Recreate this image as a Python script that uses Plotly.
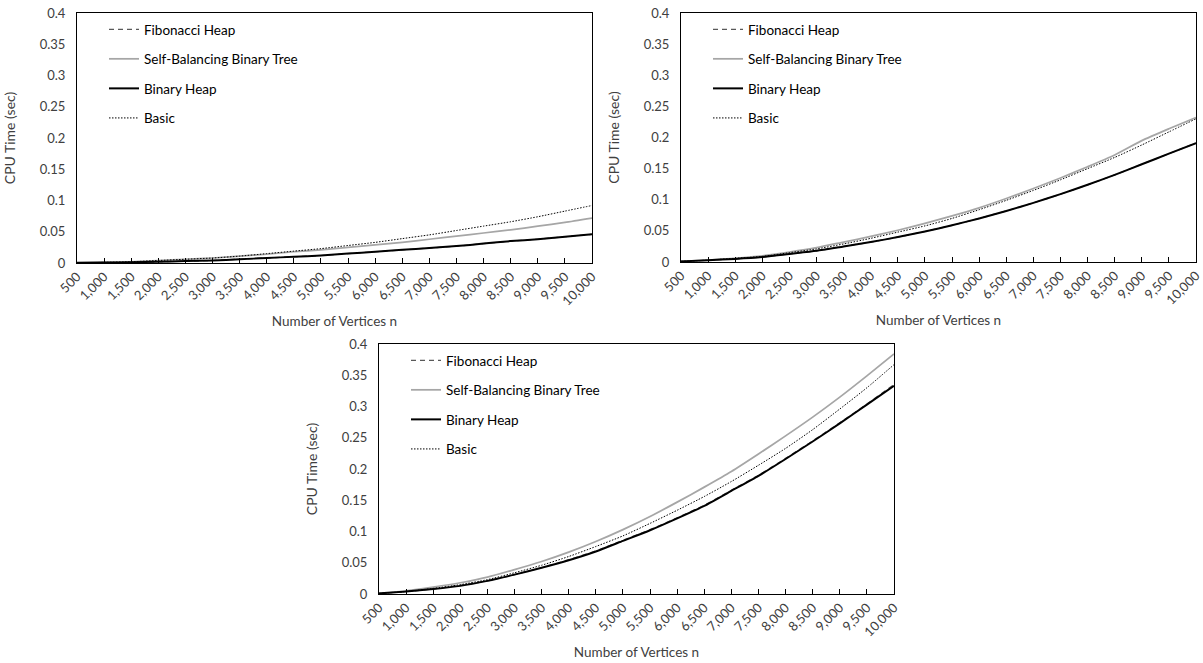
import plotly.graph_objects as go

W, H = 1203, 663

n_vertices = [500, 1000, 1500, 2000, 2500, 3000, 3500, 4000, 4500, 5000,
              5500, 6000, 6500, 7000, 7500, 8000, 8500, 9000, 9500, 10000]

series_names = ["Fibonacci Heap", "Self-Balancing Binary Tree", "Binary Heap", "Basic"]

# Chart 1 (top-left)
c1_fib = [0.0002, 0.0006, 0.0012, 0.002, 0.003, 0.004, 0.006, 0.008, 0.010, 0.012,
          0.015, 0.018, 0.021, 0.024, 0.027, 0.031, 0.035, 0.038, 0.042, 0.046]
c1_sbbt = [0.0003, 0.001, 0.002, 0.004, 0.006, 0.008, 0.011, 0.014, 0.018, 0.021,
           0.025, 0.029, 0.033, 0.038, 0.043, 0.048, 0.053, 0.059, 0.065, 0.072]
c1_bh = [0.0002, 0.0006, 0.0012, 0.002, 0.003, 0.004, 0.006, 0.008, 0.010, 0.012,
         0.015, 0.018, 0.021, 0.024, 0.027, 0.031, 0.035, 0.038, 0.042, 0.046]
c1_basic = [0.0003, 0.001, 0.002, 0.004, 0.006, 0.008, 0.011, 0.015, 0.019, 0.023,
            0.028, 0.033, 0.039, 0.045, 0.052, 0.059, 0.066, 0.074, 0.083, 0.092]

# Chart 2 (top-right)
c2_fib = [0.001, 0.003, 0.005, 0.008, 0.013, 0.018, 0.025, 0.032, 0.040, 0.049,
          0.059, 0.070, 0.082, 0.095, 0.109, 0.124, 0.140, 0.157, 0.174, 0.191]
c2_sbbt = [0.001, 0.003, 0.006, 0.010, 0.016, 0.023, 0.032, 0.041, 0.051, 0.062,
           0.074, 0.087, 0.102, 0.118, 0.135, 0.153, 0.172, 0.195, 0.214, 0.232]
c2_bh = [0.001, 0.003, 0.005, 0.008, 0.013, 0.018, 0.025, 0.032, 0.040, 0.049,
         0.059, 0.070, 0.082, 0.095, 0.109, 0.124, 0.140, 0.157, 0.174, 0.191]
c2_basic = [0.001, 0.003, 0.006, 0.009, 0.015, 0.021, 0.029, 0.038, 0.048, 0.058,
            0.070, 0.084, 0.099, 0.115, 0.132, 0.150, 0.168, 0.188, 0.209, 0.230]

# Chart 3 (bottom)
c3_fib = [0.001, 0.004, 0.008, 0.014, 0.021, 0.031, 0.042, 0.055, 0.069, 0.086,
          0.103, 0.122, 0.142, 0.166, 0.190, 0.217, 0.245, 0.274, 0.304, 0.335]
c3_sbbt = [0.001, 0.005, 0.011, 0.018, 0.027, 0.039, 0.052, 0.067, 0.084, 0.103,
           0.124, 0.147, 0.171, 0.196, 0.224, 0.253, 0.283, 0.315, 0.349, 0.384]
c3_bh = [0.001, 0.004, 0.008, 0.013, 0.021, 0.031, 0.042, 0.054, 0.068, 0.085,
         0.102, 0.121, 0.141, 0.165, 0.189, 0.216, 0.244, 0.273, 0.303, 0.333]
c3_basic = [0.001, 0.004, 0.009, 0.015, 0.023, 0.034, 0.046, 0.060, 0.076, 0.093,
            0.113, 0.134, 0.156, 0.180, 0.206, 0.233, 0.263, 0.296, 0.330, 0.367]

charts = [
    [c1_fib, c1_sbbt, c1_bh, c1_basic],
    [c2_fib, c2_sbbt, c2_bh, c2_basic],
    [c3_fib, c3_sbbt, c3_bh, c3_basic],
]

styles = [
    dict(color="#595959", width=1.25, dash="5px,4px"),
    dict(color="#A6A6A6", width=1.75, dash="solid"),
    dict(color="#000000", width=2, dash="solid"),
    dict(color="#000000", width=1, dash="1.5px,1.5px"),
]

# plot boxes in pixels: (left, right, top, bottom)
boxes = [(77, 592, 13, 263), (681, 1196, 13, 262), (379, 894, 344, 594)]

FONT = "Lato, 'Open Sans', sans-serif"
fig = go.Figure()
layout = dict(
    width=W, height=H, margin=dict(l=0, r=0, t=0, b=0, autoexpand=False),
    paper_bgcolor="white", plot_bgcolor="white",
    font=dict(family=FONT, size=13, color="#404040"),
    showlegend=True,
)
legend_keys = ["legend", "legend2", "legend3"]
for i, (vals, box) in enumerate(zip(charts, boxes)):
    xa = "x" if i == 0 else f"x{i+1}"
    ya = "y" if i == 0 else f"y{i+1}"
    for j, (name, v) in enumerate(zip(series_names, vals)):
        fig.add_trace(go.Scatter(
            x=n_vertices, y=v, mode="lines", name=name,
            line=dict(shape="spline", smoothing=0.6, **styles[j]), xaxis=xa, yaxis=ya,
            legend=legend_keys[i], legendgroup=f"g{i}_{j}",
        ))
    l, r, t, b = box
    xkey = "xaxis" if i == 0 else f"xaxis{i+1}"
    ykey = "yaxis" if i == 0 else f"yaxis{i+1}"
    layout[xkey] = dict(
        domain=[l / W, r / W], anchor=ya, range=[500, 10000], automargin=False,
        tick0=500, dtick=500, tickformat=",", tickangle=-45,
        ticks="inside", ticklen=5, tickcolor="#000000",
        ticklabeloverflow="allow",
        showline=True, mirror=True, linecolor="#000000", linewidth=1,
        showgrid=False, zeroline=False,
        tickfont=dict(size=13, color="#404040"),
        title=dict(text="Number of Vertices n", font=dict(size=13.5, color="#404040"), standoff=8),
    )
    layout[ykey] = dict(
        domain=[1 - b / H, 1 - t / H], anchor=xa, range=[0, 0.4], automargin=False,
        tick0=0, dtick=0.05,
        ticks="", showline=True, mirror=True, linecolor="#000000", linewidth=1,
        showgrid=False, zeroline=False, ticklabelstandoff=8,
        tickfont=dict(size=13, color="#404040"),
        title=dict(text="CPU Time (sec)", font=dict(size=14, color="#404040"), standoff=20),
    )
    layout[legend_keys[i]] = dict(
        x=(l + 27) / W, y=1 - (t + 1) / H, xanchor="left", yanchor="top",
        bgcolor="rgba(0,0,0,0)", tracegroupgap=9, traceorder="grouped",
        font=dict(size=13.5, color="#000000"),
    )

fig.update_layout(**layout)
fig.write_html(
    "out.html",
    config={"displayModeBar": False},
    post_script="document.body.style.margin='0';document.body.style.overflow='hidden';",
)
